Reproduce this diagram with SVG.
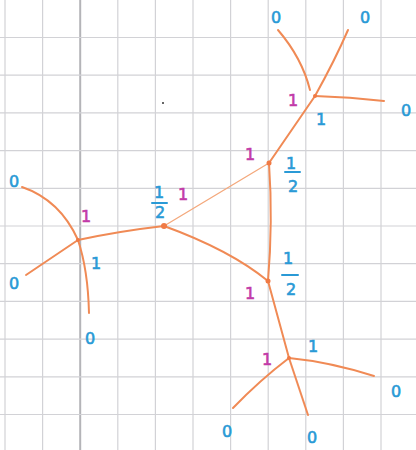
<svg xmlns="http://www.w3.org/2000/svg" width="416" height="450" viewBox="0 0 416 450">
<style>
.grid line{stroke:#d2d2d6;stroke-width:1.2}
.grid .dk{stroke:#b4b4b8;stroke-width:2}
.e{fill:none;stroke:#f08a55;stroke-width:2;stroke-linecap:round}
.thin{stroke:#f4a87c;stroke-width:1.3}
.dot{fill:#f07a45}
.b{fill:#2a9ad6;stroke:#2a9ad6;stroke-width:0.6;font-family:"DejaVu Sans","Liberation Sans",sans-serif;font-size:16px;text-anchor:middle}
.m{fill:#c23aa8;stroke:#c23aa8;stroke-width:0.6;font-family:"DejaVu Sans","Liberation Sans",sans-serif;font-size:16px;text-anchor:middle}
.bar{stroke:#2a9ad6;stroke-width:2;stroke-linecap:round}
</style>
<rect width="416" height="450" fill="#ffffff"/>
<g class="grid">
<line x1="5" y1="0" x2="5" y2="450"/>
<line x1="42.6" y1="0" x2="42.6" y2="450"/>
<line class="dk" x1="80.2" y1="0" x2="80.2" y2="450"/>
<line x1="117.8" y1="0" x2="117.8" y2="450"/>
<line x1="155.4" y1="0" x2="155.4" y2="450"/>
<line x1="193" y1="0" x2="193" y2="450"/>
<line x1="230.6" y1="0" x2="230.6" y2="450"/>
<line x1="268.2" y1="0" x2="268.2" y2="450"/>
<line x1="305.8" y1="0" x2="305.8" y2="450"/>
<line x1="343.4" y1="0" x2="343.4" y2="450"/>
<line x1="381" y1="0" x2="381" y2="450"/>
<line x1="0" y1="37.5" x2="416" y2="37.5"/>
<line x1="0" y1="75.2" x2="416" y2="75.2"/>
<line x1="0" y1="112.9" x2="416" y2="112.9"/>
<line x1="0" y1="150.6" x2="416" y2="150.6"/>
<line x1="0" y1="188.3" x2="416" y2="188.3"/>
<line x1="0" y1="226" x2="416" y2="226"/>
<line x1="0" y1="263.7" x2="416" y2="263.7"/>
<line x1="0" y1="301.4" x2="416" y2="301.4"/>
<line x1="0" y1="339.1" x2="416" y2="339.1"/>
<line x1="0" y1="376.8" x2="416" y2="376.8"/>
<line x1="0" y1="414.5" x2="416" y2="414.5"/>
</g>
<circle cx="163" cy="103" r="1" fill="#333"/>
<g id="connectors">
<path class="e" d="M22,187 Q60,200 78,240"/>
<path class="e" d="M78,240 L26,275"/>
<path class="e" d="M78,240 Q88,270 89,313"/>
<path class="e" d="M78,240 Q120,231 164,226"/>
<path class="e thin" d="M164,226 L269,163"/>
<path class="e" d="M164,226 Q230,250 268,281"/>
<path class="e" d="M269,163 Q273,222 268,281"/>
<path class="e" d="M269,163 L315,96"/>
<path class="e" d="M315,96 Q335,60 348,30"/>
<path class="e" d="M278,30 Q302,58 310,90"/>
<path class="e" d="M315,96 Q350,97 384,101"/>
<path class="e" d="M268,281 L289,358"/>
<path class="e" d="M289,358 Q330,362 374,376"/>
<path class="e" d="M289,358 Q260,380 233,408"/>
<path class="e" d="M289,358 L308,415"/>
</g>
<g id="n-left">
<circle class="dot" cx="78" cy="240" r="2"/>
<text class="m" x="86" y="222">1</text>
<text class="b" x="96" y="269">1</text>
</g>
<g id="leaf-l1"><text class="b" x="14" y="187">0</text></g>
<g id="leaf-l2"><text class="b" x="14" y="289">0</text></g>
<g id="leaf-l3"><text class="b" x="90" y="344">0</text></g>
<g id="n-center">
<circle class="dot" cx="164" cy="226" r="3"/>
<text class="b" x="159" y="198">1</text>
<line class="bar" x1="152" y1="203" x2="167" y2="203"/>
<text class="b" x="160" y="218">2</text>
<text class="m" x="183" y="200">1</text>
</g>
<g id="n-upper">
<circle class="dot" cx="269" cy="163" r="2.5"/>
<text class="m" x="250" y="160">1</text>
<text class="b" x="291" y="169">1</text>
<line class="bar" x1="285" y1="172" x2="300" y2="172"/>
<text class="b" x="293" y="192">2</text>
</g>
<g id="n-lower">
<circle class="dot" cx="268" cy="281" r="2.5"/>
<text class="m" x="250" y="299">1</text>
<text class="b" x="288" y="264">1</text>
<line class="bar" x1="282" y1="275" x2="298" y2="275"/>
<text class="b" x="291" y="295">2</text>
</g>
<g id="n-topright">
<circle class="dot" cx="315" cy="96" r="2"/>
<text class="m" x="293" y="106">1</text>
<text class="b" x="321" y="125">1</text>
</g>
<g id="leaf-t1"><text class="b" x="276" y="23">0</text></g>
<g id="leaf-t2"><text class="b" x="365" y="23">0</text></g>
<g id="leaf-t3"><text class="b" x="406" y="116">0</text></g>
<g id="n-botright">
<circle class="dot" cx="289" cy="358" r="2"/>
<text class="m" x="267" y="365">1</text>
<text class="b" x="313" y="352">1</text>
</g>
<g id="leaf-b1"><text class="b" x="396" y="397">0</text></g>
<g id="leaf-b2"><text class="b" x="227" y="437">0</text></g>
<g id="leaf-b3"><text class="b" x="312" y="443">0</text></g>
</svg>
